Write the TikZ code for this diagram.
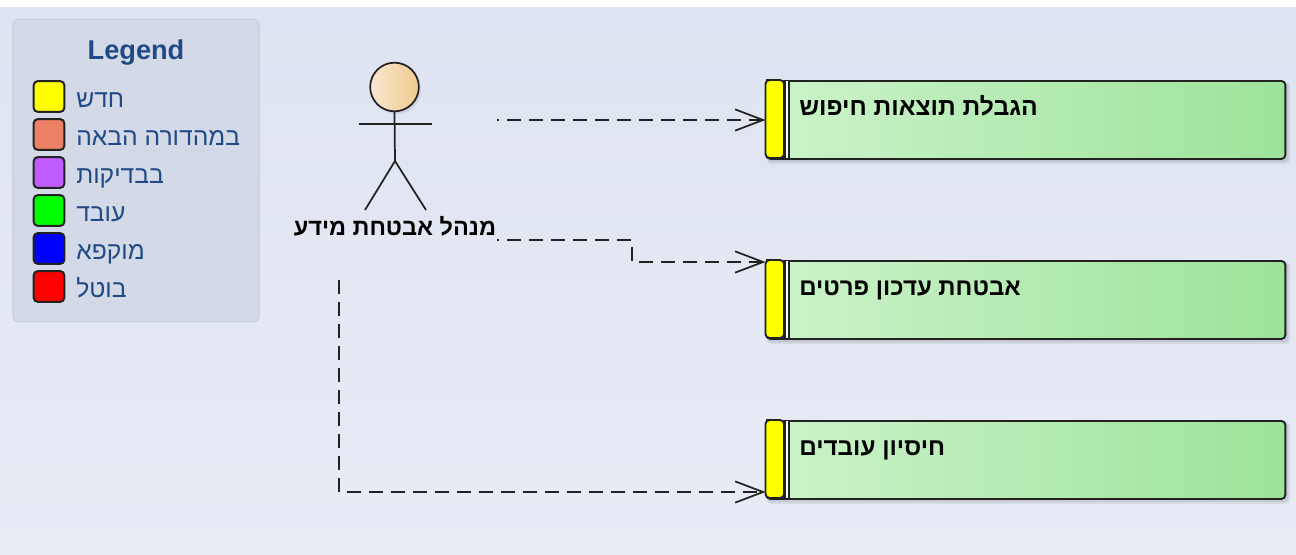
\documentclass[tikz,border=0pt]{standalone}
\usepackage{fontspec}
\setmainfont{Liberation Sans}
\newfontfamily\hebfont[Script=Hebrew]{Liberation Sans}
\TeXXeTstate=1
\usetikzlibrary{arrows.meta}
\definecolor{bgtop}{HTML}{DDE3F0}
\definecolor{bgbot}{HTML}{E8ECF5}
\definecolor{legfill}{HTML}{D3D9E6}
\definecolor{legline}{HTML}{C7CEDE}
\definecolor{legtext}{HTML}{1F4A85}
\definecolor{boxl}{HTML}{CCF3CA}
\definecolor{boxr}{HTML}{9DE39A}
\definecolor{headl}{HTML}{F8E6CF}
\definecolor{headr}{HTML}{F0CB90}
\definecolor{inkline}{HTML}{222222}
\definecolor{swyellow}{HTML}{FFFF00}
\definecolor{swred}{HTML}{EC8166}
\definecolor{swpurple}{HTML}{C05CFF}
\definecolor{swgreen}{HTML}{00FF00}
\definecolor{swblue}{HTML}{0000FF}
\definecolor{swcrimson}{HTML}{FF0000}
\tikzset{
  x=0.75pt,y=-0.75pt,
  swatch/.style={draw=inkline,line width=1.5pt,rounded corners=3pt,minimum width=23pt,minimum height=23pt,inner sep=0pt,fill=#1},
  legtxt/.style={anchor=base west,inner sep=0pt,text=legtext,font=\hebfont\fontsize{18.5pt}{20pt}\selectfont},
  reqbox/.style={draw=inkline,line width=1.4pt,rounded corners=3pt,minimum width=389.2pt,minimum height=58.5pt,inner sep=0pt,left color=boxl,right color=boxr,anchor=north west},
  reqshadow/.style={fill=black,opacity=.07,rounded corners=3pt},
  reqbar/.style={fill=swyellow,draw=inkline,line width=1.4pt,rounded corners=3pt},
  reqtxt/.style={anchor=base west,inner sep=0pt,text=black,font=\hebfont\bfseries\fontsize{#1}{20pt}\selectfont},
  link/.style={draw=inkline,line width=1.15pt,dash pattern=on 10.5pt off 6pt,-{Straight Barb[length=21pt,width=16pt,line width=1.3pt]}},
  limb/.style={draw=inkline,line width=1.3pt},
}
\begin{document}
\begin{tikzpicture}
\useasboundingbox (0,0) rectangle (1296,554);
\fill[white] (0,0) rectangle (1296,8);
\shade[top color=bgtop,bottom color=bgbot] (0,7) rectangle (1296,556);
% legend
\node[draw=legline,line width=.8pt,fill=legfill,rounded corners=4pt,minimum width=184.5pt,minimum height=227pt,inner sep=0pt] (legend) at (136,170.5) {};
\node[anchor=base,inner sep=0pt,text=legtext,font=\bfseries\fontsize{20.4pt}{22pt}\selectfont] (legtitle) at (136,59) {Legend};
\node[swatch=swyellow] (s1) at (49,96.5) {};
\node[swatch=swred] (s2) at (49,134.5) {};
\node[swatch=swpurple] (s3) at (49,172.5) {};
\node[swatch=swgreen] (s4) at (49,210.5) {};
\node[swatch=swblue] (s5) at (49,248.5) {};
\node[swatch=swcrimson] (s6) at (49,286.5) {};
\node[legtxt] (l1) at (76,107.5) {\beginR חדש\endR};
\node[legtxt] (l2) at (76,145.5) {\beginR במהדורה הבאה\endR};
\node[legtxt] (l3) at (76,183.5) {\beginR בבדיקות\endR};
\node[legtxt] (l4) at (76,221.5) {\beginR עובד\endR};
\node[legtxt] (l5) at (76,259.5) {\beginR מוקפא\endR};
\node[legtxt] (l6) at (76,297.5) {\beginR בוטל\endR};
% actor
\fill[black,opacity=.08] (397,90) circle[radius=24];
\node[circle,draw=inkline,line width=1.3pt,left color=headl,right color=headr,minimum size=36.5pt,inner sep=0pt] (head) at (394.5,87) {};
\coordinate (hip) at (395,161);
\coordinate (neck) at (395,124);
\draw[limb] (head.south) -- (hip);
\draw[limb] (359,124) -- (neck) -- (432,124);
\draw[limb] (365,210) -- (hip) -- (426,210);
\node[anchor=base,inner sep=0pt,text=black,font=\hebfont\bfseries\fontsize{17.6pt}{20pt}\selectfont] (actor) at (395,235) {\beginR מנהל אבטחת מידע\endR};
% requirement boxes
\foreach \y in {80,260,420}{
  \fill[reqshadow] (767,\y+2) rectangle (1290,\y+84);
  \fill[reqshadow] (767,\y+2) rectangle (1288,\y+82);
}
\node[reqbox] (b1) at (765.5,80) {};
\node[reqbox] (b2) at (765.5,260) {};
\node[reqbox] (b3) at (765.5,420) {};
\foreach \y in {80,260,420}{
  \fill[white] (784,\y+1) rectangle (789,\y+77);
  \draw[reqbar] (765.5,\y) -- (770,\y) -- (784,\y) -- (784,\y+78) -- (765.5,\y+78) -- cycle;
  \draw[draw=inkline,line width=1.6pt] (784.5,\y) -- (784.5,\y+78);
  \draw[draw=inkline,line width=1.2pt] (789,\y) -- (789,\y+78);
}
\node[reqtxt=18.5pt] (t1) at (799,115) {\beginR הגבלת תוצאות חיפוש\endR};
\node[reqtxt=18pt] (t2) at (799,295) {\beginR אבטחת עדכון פרטים\endR};
\node[reqtxt=18.2pt] (t3) at (799,455) {\beginR חיסיון עובדים\endR};
% connectors
\coordinate (a1) at (497,120);
\coordinate (a2) at (497,240);
\coordinate (a3) at (339,280);
\coordinate (e2) at (632,240);
\coordinate (f2) at (632,262);
\coordinate (e3) at (339,492);
\draw[link,dash phase=9pt] (a1) -- (b1.west |- a1);
\draw[link,dash phase=9pt] (a2) -- (e2) -- (f2) -- (b2.west |- f2);
\draw[link] (a3) -- (e3) -- (b3.west |- e3);
\end{tikzpicture}
\end{document}
